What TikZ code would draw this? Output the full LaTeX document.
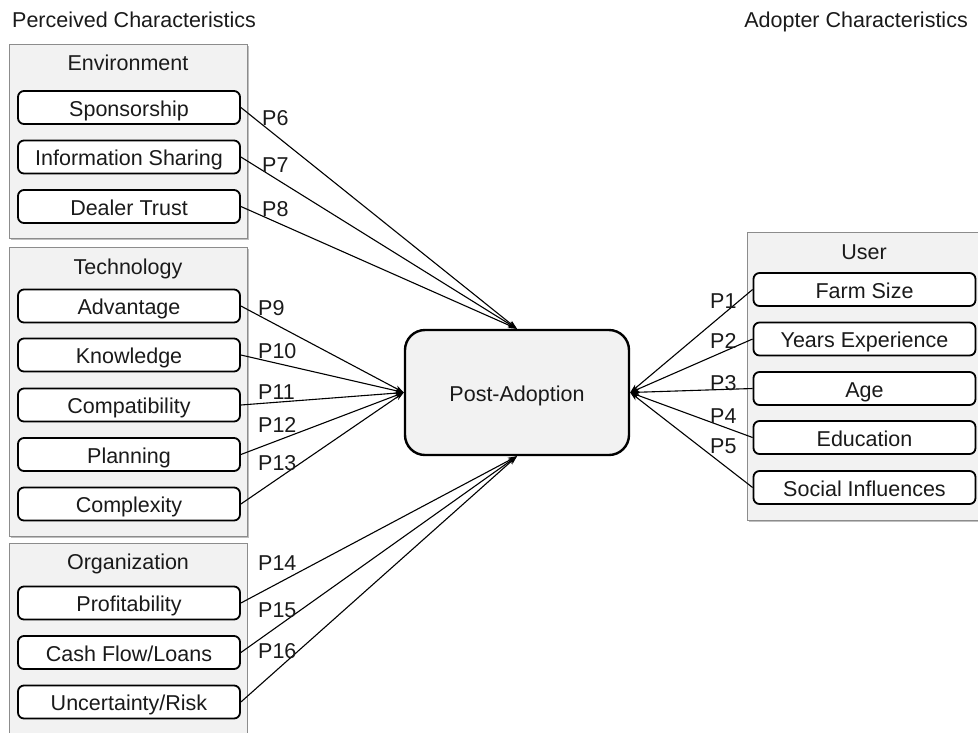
\documentclass[tikz,border=0pt]{standalone}
\usepackage{fontspec}
\setmainfont{Liberation Sans}
\usetikzlibrary{arrows.meta}
\definecolor{panelfill}{HTML}{F2F2F2}
\definecolor{panelline}{HTML}{8C8C8C}
\definecolor{panelshade}{HTML}{BFBFBF}
\definecolor{ink}{HTML}{1A1A1A}
\begin{document}
\begin{tikzpicture}[x=1pt,y=-1pt,
  font=\fontsize{21.5}{24}\selectfont, text=ink,
  every node/.style={text height=15.4pt, text depth=0pt},
  panel/.style={draw=panelline, fill=panelfill, line width=1pt, inner sep=0pt},
  shade/.style={fill=panelshade},
  factor/.style={draw=black, fill=white, line width=1.8pt, rounded corners=6pt,
    minimum width=222pt, minimum height=33pt, inner sep=0pt, text height=17pt},
  core/.style={draw=black, fill=panelfill, line width=2.4pt, rounded corners=20pt,
    minimum width=224pt, minimum height=125pt, inner sep=0pt, text height=17pt},
  link/.style={draw=black, line width=1.1pt, -{Stealth[length=9pt,width=6pt]}},
  plabel/.style={inner sep=0pt, anchor=west},
  heading/.style={inner sep=0pt}]
\useasboundingbox (0,0) rectangle (978,732);
\clip (0,0) rectangle (978,732);

% headings
\node[heading, anchor=west] (hleft) at (12,19.5) {Perceived Characteristics};
\node[heading, anchor=east] (hright) at (968,19.5) {Adopter Characteristics};

% group panels with a light drop shade
\fill[shade] (10.5,45.5) rectangle (248.5,239.5);
\node[panel, minimum width=238pt, minimum height=194pt] (env) at (128,141) {};
\fill[shade] (10.5,248.5) rectangle (248.5,537.5);
\node[panel, minimum width=238pt, minimum height=289pt] (tech) at (128,391.5) {};
\node[panel, minimum width=238pt, minimum height=200pt] (org) at (128,643) {};
\fill[shade] (748.5,233.5) rectangle (990,521.5);
\node[panel, minimum width=250pt, minimum height=288pt] (user) at (872,376) {};

% panel titles
\node[heading] (envt) at (128,62.5) {Environment};
\node[heading] (techt) at (128,267) {Technology};
\node[heading] (orgt) at (128,562) {Organization};
\node[heading] (usert) at (864,252) {User};

% environment factors
\node[factor] (spon) at (129,107.5) {Sponsorship};
\node[factor] (info) at (129,157) {Information Sharing};
\node[factor] (deal) at (129,206.5) {Dealer Trust};

% technology factors
\node[factor] (adv) at (129,306) {Advantage};
\node[factor] (know) at (129,355) {Knowledge};
\node[factor] (comp) at (129,405) {Compatibility};
\node[factor] (plan) at (129,454.5) {Planning};
\node[factor] (cplx) at (129,504) {Complexity};

% organization factors
\node[factor] (prof) at (129,603) {Profitability};
\node[factor] (cash) at (129,652.5) {Cash Flow/Loans};
\node[factor] (risk) at (129,702) {Uncertainty/Risk};

% user factors
\node[factor] (farm) at (864.5,289.5) {Farm Size};
\node[factor] (years) at (864.5,339) {Years Experience};
\node[factor] (age) at (864.5,388.5) {Age};
\node[factor] (edu) at (864.5,437.5) {Education};
\node[factor] (soc) at (864.5,487.5) {Social Influences};

% outcome
\node[core] (post) at (517,392.5) {Post-Adoption};

% connectors into the outcome
\foreach \src in {spon,info,deal} \draw[link] (\src.east) -- (post.north);
\foreach \src in {adv,know,comp,plan,cplx} \draw[link] (\src.east) -- (post.west);
\foreach \src in {prof,cash,risk} \draw[link] (\src.east) -- (post.south);
\foreach \src in {farm,years,age,edu,soc} \draw[link] (\src.west) -- (post.east);

% proposition labels
\node[plabel] (p6) at (262,117.5) {P6};
\node[plabel] (p7) at (262,164.5) {P7};
\node[plabel] (p8) at (262,209) {P8};
\node[plabel] (p9) at (258,308) {P9};
\node[plabel] (p10) at (258,351) {P10};
\node[plabel] (p11) at (258,391.5) {P11};
\node[plabel] (p12) at (258,424.5) {P12};
\node[plabel] (p13) at (258,463) {P13};
\node[plabel] (p14) at (258,562.5) {P14};
\node[plabel] (p15) at (258,609.5) {P15};
\node[plabel] (p16) at (258,651) {P16};
\node[plabel] (p1) at (710,300.5) {P1};
\node[plabel] (p2) at (710,340.5) {P2};
\node[plabel] (p3) at (710,382.5) {P3};
\node[plabel] (p4) at (710,415.5) {P4};
\node[plabel] (p5) at (710,445.5) {P5};
\end{tikzpicture}
\end{document}
